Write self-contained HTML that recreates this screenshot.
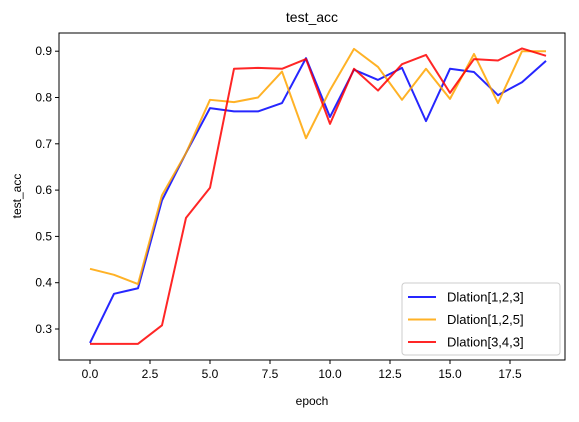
<!DOCTYPE html>
<html><head><meta charset="utf-8"><style>
body{margin:0;background:#fff;}
svg{font-family:"Liberation Sans","DejaVu Sans",sans-serif;}
</style></head><body>
<svg id="chart" width="579" height="417"></svg>
<script>
const epochs=[0,1,2,3,4,5,6,7,8,9,10,11,12,13,14,15,16,17,18,19];
const seriesA=[0.27,0.376,0.388,0.578,0.68,0.777,0.77,0.77,0.788,0.885,0.758,0.86,0.838,0.864,0.749,0.862,0.855,0.805,0.833,0.879];
const seriesB=[0.43,0.417,0.397,0.589,0.68,0.795,0.79,0.8,0.856,0.712,0.816,0.905,0.866,0.795,0.862,0.797,0.894,0.788,0.9,0.9];
const seriesC=[0.268,0.268,0.268,0.308,0.54,0.605,0.862,0.864,0.862,0.883,0.743,0.862,0.815,0.872,0.892,0.81,0.883,0.88,0.906,0.89];
const seriesNames=["Dlation[1,2,3]","Dlation[1,2,5]","Dlation[3,4,3]"];
const xTicks=[0,2.5,5,7.5,10,12.5,15,17.5];
const yTicks=[0.3,0.4,0.5,0.6,0.7,0.8,0.9];
const colors=["#0000ff","#ffa500","#ff0000"];
const NS="http://www.w3.org/2000/svg";
const svg=document.getElementById('chart');
const L=59,R=565,T=33,B=360;
const xs=v=>90+v*24;
const ys=v=>329-(v-0.3)*463;
function mk(tag,attrs,parent){const e=document.createElementNS(NS,tag);for(const k in attrs)e.setAttribute(k,attrs[k]);(parent||svg).appendChild(e);return e;}
const title=mk('text',{x:312,y:22,'text-anchor':'middle','font-size':14,fill:'#000'});title.textContent='test_acc';


const frame=mk('rect',{x:L,y:T,width:R-L,height:B-T,fill:'none',stroke:'#000','stroke-width':1});


xTicks.forEach(t=>{const g=mk('g',{});


mk('line',{x1:xs(t),x2:xs(t),y1:B,y2:B+4,stroke:'#000'},g);
const tx=mk('text',{x:xs(t),y:B+18,'text-anchor':'middle','font-size':12,fill:'#000'},g);tx.textContent=t.toFixed(1);});
yTicks.forEach(t=>{const g=mk('g',{});


mk('line',{x1:L-4,x2:L,y1:ys(t),y2:ys(t),stroke:'#000'},g);
const tx=mk('text',{x:L-7,y:ys(t)+4,'text-anchor':'end','font-size':12,fill:'#000'},g);tx.textContent=t.toFixed(1);});
const xl=mk('text',{x:312,y:405,'text-anchor':'middle','font-size':12,fill:'#000'});xl.textContent='epoch';


const yl=mk('text',{x:0,y:0,transform:'translate(21,196) rotate(-90)','text-anchor':'middle','font-size':12,fill:'#000'});yl.textContent='test_acc';


[seriesA,seriesB,seriesC].forEach((s,i)=>{
const p=mk('polyline',{points:s.map((v,j)=>xs(epochs[j])+','+ys(v)).join(' '),fill:'none',stroke:colors[i],'stroke-width':2,'stroke-opacity':0.85,'stroke-linejoin':'round'});


});
const lg=mk('g',{});


mk('rect',{x:402,y:283,width:158,height:72,rx:3,fill:'#fff','fill-opacity':0.8,stroke:'#ccc'},lg);
seriesNames.forEach((n,i)=>{const y=297+i*22.5;
const e=mk('g',{},lg);


mk('line',{x1:408,x2:436,y1:y,y2:y,stroke:colors[i],'stroke-width':2,'stroke-opacity':0.85},e);
const t=mk('text',{x:447,y:y+4.5,'font-size':13,fill:'#000'},e);t.textContent=n;});
</script>
</body></html>
